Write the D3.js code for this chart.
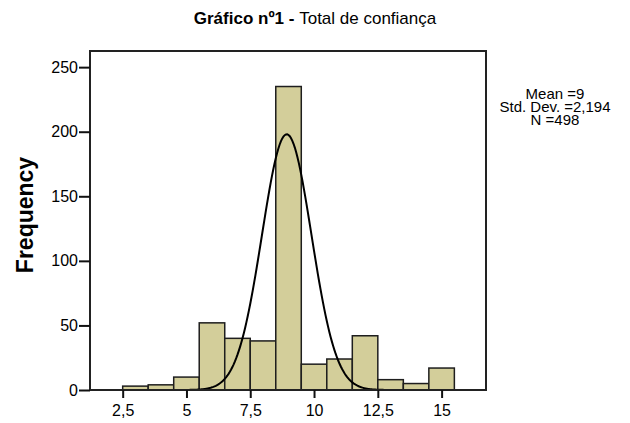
<!DOCTYPE html>
<html>
<head>
<meta charset="utf-8">
<script src="https://cdn.jsdelivr.net/npm/d3@7"></script>
<style>
  body { margin: 0; background: #fff; }
  text { font-family: "Liberation Sans", Arial, sans-serif; fill: #000; }
</style>
</head>
<body>
<div id="chart"></div>
<script>
      var w = 630;
      var h = 423;

      // bin centres (bin width 1) and counts
      var binCenters = [3, 4, 5, 6, 7, 8, 9, 10, 11, 12, 13, 14, 15];
      var frequencies = [3, 4, 10, 52, 40, 38, 235, 20, 24, 42, 8, 5, 17];

      var xTicks = [2.5, 5, 7.5, 10, 12.5, 15];
      var yTicks = [0, 50, 100, 150, 200, 250];

      // normal curve as drawn: centre, spread, peak height
      var curveMean = 8.93;
      var curveSd = 0.97;
      var curvePeak = 198;

      var statsLines = ["Mean =9", "Std. Dev. =2,194", "N =498"];

      var plotLeft = 90, plotRight = 486, plotTop = 51, plotBottom = 390;

      var xScale = d3.scaleLinear()
              .domain([1.219, 16.74])
              .range([plotLeft, plotRight]);

      var yScale = d3.scaleLinear()
              .domain([0, 262.5])
              .range([plotBottom, plotTop]);

      var svg = d3.select("#chart")
            .append("svg")
            .attr("width", w)
            .attr("height", h);

      // title
      var title = svg.append("text")
            .attr("x", 315)
            .attr("y", 24)
            .attr("text-anchor", "middle")
            .style("font-size", "17px");
      title.append("tspan").style("font-weight", "bold").text("Gráfico nº1 - ");
      title.append("tspan").text("Total de confiança");

      // bars
      svg.selectAll("rect.bar")
         .data(frequencies)
         .enter()
         .append("rect")
         .attr("class", "bar")
         .attr("x", function(d, i) { return xScale(binCenters[i] - 0.5); })
         .attr("y", function(d) { return yScale(d); })
         .attr("width", function(d, i) {
            return xScale(binCenters[i] + 0.5) - xScale(binCenters[i] - 0.5);
         })
         .attr("height", function(d) { return plotBottom - yScale(d); })
         .attr("fill", "#d3ce9a")
         .attr("stroke", "#1e1e1e")
         .attr("stroke-width", 1.5);

      // normal curve
      var curveX = d3.range(4.5, 13.5, 0.05);
      var line = d3.line()
          .x(function(d) { return xScale(d); })
          .y(function(d) {
            var z = (d - curveMean) / curveSd;
            return yScale(curvePeak * Math.exp(-0.5 * z * z));
          });

      svg.append("path")
         .datum(curveX)
         .attr("d", line)
         .attr("fill", "none")
         .attr("stroke", "#000")
         .attr("stroke-width", 2);

      // frame
      svg.append("rect")
         .attr("x", plotLeft)
         .attr("y", plotTop)
         .attr("width", plotRight - plotLeft)
         .attr("height", plotBottom - plotTop)
         .attr("fill", "none")
         .attr("stroke", "#222")
         .attr("stroke-width", 2);

      // axes
      var xAxis = d3.axisBottom(xScale)
          .tickValues(xTicks)
          .tickSize(8)
          .tickPadding(7)
          .tickFormat(function(d) { return String(d).replace(".", ","); });

      var yAxis = d3.axisLeft(yScale)
          .tickValues(yTicks)
          .tickSize(11)
          .tickPadding(1);

      var gx = svg.append("g")
         .attr("transform", "translate(0," + plotBottom + ")")
         .call(xAxis);
      gx.select(".domain").remove();
      gx.selectAll("line").attr("stroke", "#111").attr("stroke-width", 2);
      gx.selectAll("text").style("font-size", "16px").attr("fill", "#000");

      var gy = svg.append("g")
         .attr("transform", "translate(" + plotLeft + ",0)")
         .call(yAxis);
      gy.select(".domain").remove();
      gy.selectAll("line").attr("stroke", "#111").attr("stroke-width", 2);
      gy.selectAll("text").style("font-size", "16px").attr("fill", "#000");

      // y axis title
      svg.append("text")
         .attr("transform", "translate(33,215) rotate(-90)")
         .attr("text-anchor", "middle")
         .style("font-size", "23px")
         .style("font-weight", "bold")
         .text("Frequency");

      // stats box
      svg.selectAll("text.stats")
         .data(statsLines)
         .enter()
         .append("text")
         .attr("class", "stats")
         .attr("x", 555)
         .attr("y", function(d, i) { return 98.5 + i * 13.3; })
         .attr("text-anchor", "middle")
         .style("font-size", "15px")
         .text(function(d) { return d; });
</script>
</body>
</html>
